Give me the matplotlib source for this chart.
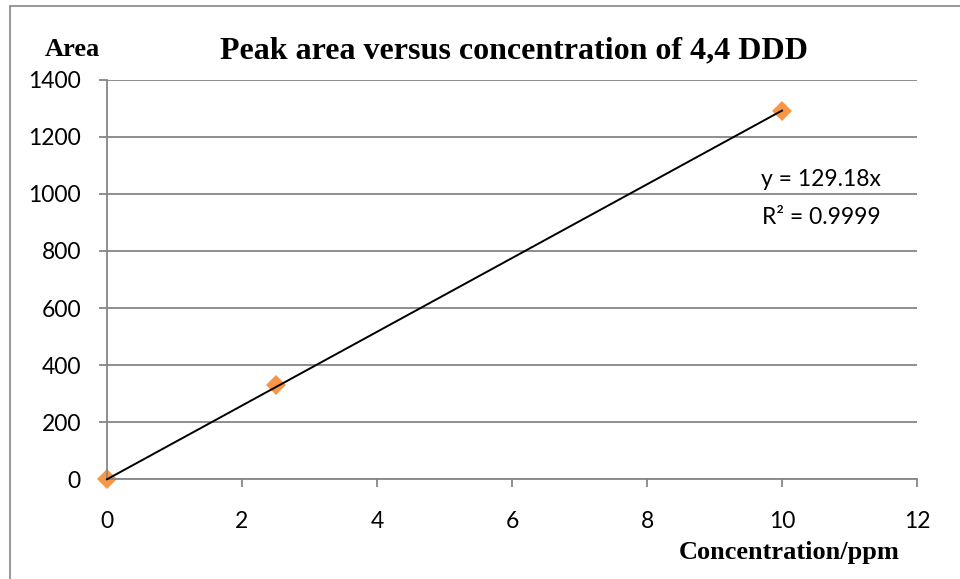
import matplotlib
matplotlib.use("Agg")
import matplotlib.pyplot as plt
import numpy as np
from matplotlib.patches import Rectangle

# Calibration points for 4,4 DDD
conc_ppm = [0, 2.5, 10]
peak_area = [0, 330, 1290]
slope = 129.18
r_squared = 0.9999

x_ticks = [0, 2, 4, 6, 8, 10, 12]
y_ticks = [0, 200, 400, 600, 800, 1000, 1200, 1400]

GRID = "#868686"
ORANGE = "#F79646"
SANS = "Lato"
SERIF = "Liberation Serif"

fig = plt.figure(figsize=(9.6, 5.79), dpi=100)
fig.patch.set_facecolor("white")

# outer chart frame (runs off the right and bottom edges)
fig.add_artist(Rectangle((10 / 960, -0.05), 1.0, 1 - 6 / 579 + 0.05,
                         transform=fig.transFigure, fill=False,
                         edgecolor=GRID, linewidth=1.2))

ax = fig.add_axes([107 / 960, 1 - 479.3 / 579, 810 / 960, 399.6 / 579])

ax.set_xlim(0, 12)
ax.set_ylim(0, 1400)
ax.set_xticks(x_ticks)
ax.set_yticks(y_ticks)
ax.yaxis.grid(True, color=GRID, linewidth=1.3)
ax.set_axisbelow(True)

for side in ("top", "right"):
    ax.spines[side].set_visible(False)
for side in ("left", "bottom"):
    ax.spines[side].set_color(GRID)
    ax.spines[side].set_linewidth(1.3)

ax.tick_params(axis="both", direction="out", length=5.8, width=1.3,
               color=GRID, labelsize=16.5, labelcolor="black")
ax.tick_params(axis="x", pad=17)
ax.tick_params(axis="y", pad=13)
for lbl in ax.get_xticklabels() + ax.get_yticklabels():
    lbl.set_fontfamily(SANS)

# linear trendline through the origin
fit_x = np.array([0, max(conc_ppm)])
ax.plot(fit_x, slope * fit_x, color="black", linewidth=1.4, zorder=3,
        clip_on=False)
ax.plot(conc_ppm, peak_area, linestyle="none", marker="D", markersize=10,
        color=ORANGE, markeredgewidth=0, zorder=2, clip_on=False)

ax.text(0.8815, 0.75, f"y = {slope}x", transform=ax.transAxes,
        ha="center", va="center", fontsize=16.5, family=SANS)
ax.text(0.8815, 0.655, f"R² = {r_squared}", transform=ax.transAxes,
        ha="center", va="center", fontsize=16.5, family=SANS)

fig.text(514.5 / 960, 1 - 51 / 579, "Peak area versus concentration of 4,4 DDD",
         ha="center", va="center", fontsize=23, fontweight="bold",
         family=SERIF)
fig.text(72 / 960, 1 - 49 / 579, "Area", ha="center", va="center",
         fontsize=19, fontweight="bold", family=SERIF)
fig.text(789.5 / 960, 1 - 553 / 579, "Concentration/ppm", ha="center",
         va="center", fontsize=19, fontweight="bold", family=SERIF)

fig.savefig("out.png", dpi=100, facecolor="white")
